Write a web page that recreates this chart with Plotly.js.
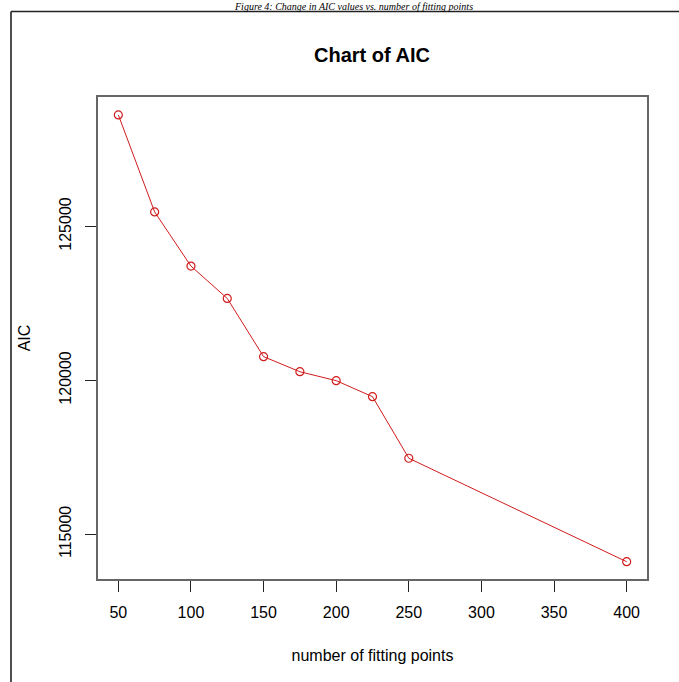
<!DOCTYPE html>
<html>
<head>
<meta charset="utf-8">
<script src="https://cdn.plot.ly/plotly-3.0.1.min.js"></script>
<style>
html,body{margin:0;padding:0;background:#fff;}
#chart{width:679px;height:682px;}
</style>
</head>
<body>
<div id="chart"></div>
<script>
// Data
var fittingPoints = [50, 75, 100, 125, 150, 175, 200, 225, 250, 400];
var aicValues = [128620, 125470, 123710, 122660, 120770, 120280, 119990, 119470, 117470, 114110];
var xTickVals = [50, 100, 150, 200, 250, 300, 350, 400];
var yTickVals = [115000, 120000, 125000];
var yTickText = ["115000", "120000", "125000"];

var W = 679, H = 682;
var mL = 98, mR = 32, mT = 97, mB = 103;
var pw = W - mL - mR, ph = H - mT - mB;
function px2paperX(px){ return (px - mL) / pw; }
function px2paperY(py){ return (H - mB - py) / ph; }

var frameX = px2paperX(11), frameY = px2paperY(11.5);

var trace = {
  x: fittingPoints,
  y: aicValues,
  type: 'scatter',
  mode: 'lines+markers',
  line: {color: '#d01c1c', width: 1},
  marker: {symbol: 'circle-open', size: 8, color: '#d01c1c', line: {width: 1.2, color: '#d01c1c'}},
  hoverinfo: 'x+y',
  showlegend: false
};

var font = "Liberation Sans, Arial, sans-serif";

var layout = {
  width: W, height: H,
  paper_bgcolor: '#ffffff',
  plot_bgcolor: '#ffffff',
  margin: {l: mL, r: mR, t: mT, b: mB, pad: 0},
  font: {family: font, size: 16, color: '#000'},
  title: {
    text: '<b>Chart of AIC</b>',
    font: {family: font, size: 20, color: '#000'},
    x: px2paperX(372), xref: 'paper', xanchor: 'center',
    y: 1 - 55 / H, yref: 'container', yanchor: 'middle'
  },
  xaxis: {
    range: [36, 414],
    tickmode: 'array',
    tickvals: xTickVals,
    ticks: 'outside', ticklen: 11, tickwidth: 1, tickcolor: '#222',
    ticklabelstandoff: 7,
    tickfont: {family: font, size: 16, color: '#000'},
    showgrid: false, zeroline: false,
    showline: true, linecolor: '#666', linewidth: 1.6, mirror: true,
    title: {text: 'number of fitting points', font: {family: font, size: 16, color: '#000'}, standoff: 30}
  },
  yaxis: {
    range: [113549, 129201],
    tickmode: 'array',
    tickvals: yTickVals,
    ticktext: yTickText,
    tickangle: -90,
    ticks: 'outside', ticklen: 11, tickwidth: 1, tickcolor: '#222',
    ticklabelstandoff: 8,
    tickfont: {family: font, size: 16, color: '#000'},
    showgrid: false, zeroline: false,
    showline: true, linecolor: '#666', linewidth: 1.6, mirror: true,
    title: {text: 'AIC', font: {family: font, size: 16, color: '#000'}, standoff: 22}
  },
  shapes: [
    {type: 'line', xref: 'paper', yref: 'paper', x0: frameX, x1: frameX, y0: -0.3, y1: frameY,
     line: {color: '#222', width: 1.6}},
    {type: 'line', xref: 'paper', yref: 'paper', x0: frameX, x1: 1.2, y0: frameY, y1: frameY,
     line: {color: '#222', width: 1.6}}
  ],
  annotations: [
    {text: '<i>Figure 4: Change in AIC values vs. number of fitting points</i>',
     xref: 'paper', yref: 'paper', x: px2paperX(353), y: px2paperY(6.5),
     xanchor: 'center', yanchor: 'middle', showarrow: false, borderpad: 0,
     font: {family: 'Liberation Serif, Times New Roman, serif', size: 10, color: '#000'}}
  ]
};

Plotly.newPlot('chart', [trace], layout, {displayModeBar: false, staticPlot: true});
</script>
</body>
</html>
